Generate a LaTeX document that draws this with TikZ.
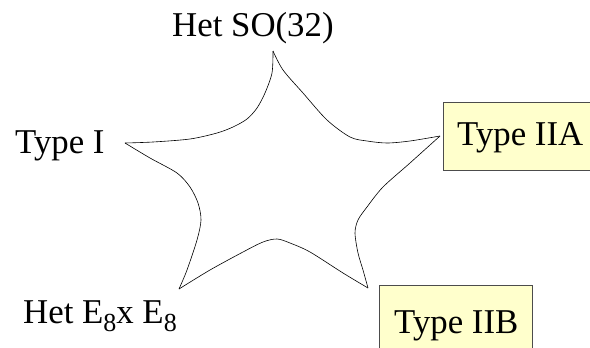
\documentclass[tikz,border=0pt]{standalone}
\usepackage{fontspec}
\setmainfont{Liberation Serif}
\begin{document}
\begin{tikzpicture}[x=1pt,y=-1pt,
  lbl/.style={inner sep=0pt,anchor=base west,font=\fontsize{34.8}{38}\selectfont},
  ybox/.style={draw=black!70,fill={rgb,255:red,255;green,255;blue,204},line width=0.9pt},
  star/.style={draw=black,line width=0.6pt,line join=miter},
  edge/.style={star,smooth,tension=0.5}]
\useasboundingbox (0,0) rectangle (590,348);
\clip (0,0) rectangle (590,348);
% yellow boxes
\draw[ybox] (443,102) rectangle (600,170);
\draw[ybox] (379,285) rectangle (532,360);
% star tips
\coordinate (T) at (273,51);
\coordinate (R) at (440,136);
\coordinate (BR) at (368,288);
\coordinate (BL) at (179,289);
\coordinate (L) at (125,143);
% star edges
\draw[edge] plot coordinates {(273,51) (283,70) (303,93) (327,120) (350,137) (367,141) (387,143) (410,141) (440,136)};
\draw[edge] plot coordinates {(440,136) (410,163) (383,187) (367,207) (358,220) (355,233) (358,253) (363,270) (368,288)};
\draw[edge] plot coordinates {(368,288) (343,273) (310,252) (290,243) (277,239) (263,242) (243,252) (210,270) (179,289)};
\draw[edge] plot coordinates {(179,289) (187,270) (197,240) (201,220) (198,203) (190,187) (177,173) (150,158) (125,143)};
\draw[edge] plot coordinates {(125,143) (153,142) (190,139) (217,133) (233,127) (247,119) (257,108) (265,93) (272,73) (273,51)};
% labels
\node[lbl] (so) at (172,37) {Het SO(32)};
\node[lbl] (t1) at (15,153) {Type I};
\node[lbl] (iia) at (457,145) {Type IIA};
\node[lbl] (iib) at (394,333) {Type IIB};
\node[lbl] (e8) at (23,323) {Het E\raisebox{-8pt}{\fontsize{26}{26}\selectfont 8}x E\raisebox{-8pt}{\fontsize{26}{26}\selectfont 8}};
\end{tikzpicture}
\end{document}
